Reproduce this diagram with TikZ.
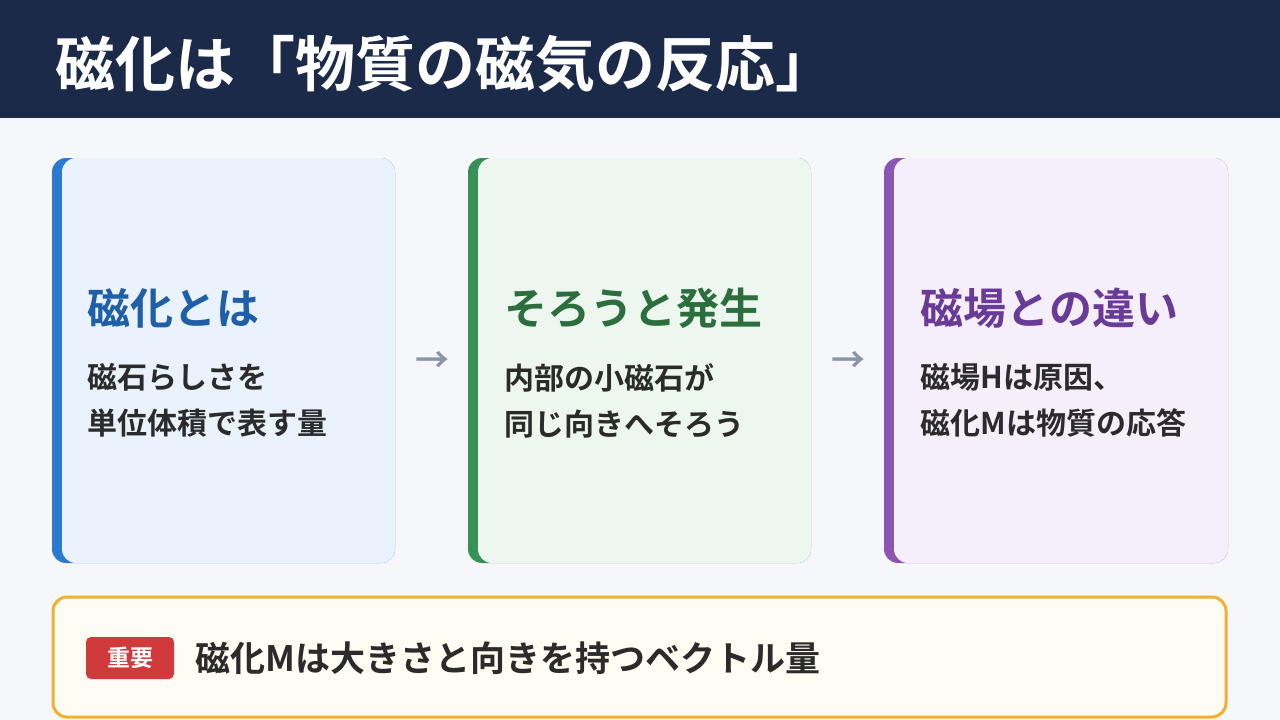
\documentclass[tikz,border=0pt]{standalone}
\usepackage{fontspec}
\setmainfont{Noto Sans CJK JP}[BoldFont={* Bold}]
\newfontfamily\cjk{Noto Sans CJK JP}[BoldFont={* Bold}]
\usetikzlibrary{positioning}
\definecolor{navy}{HTML}{1C2A4A}
\definecolor{pagebg}{HTML}{F5F7FB}
\definecolor{blueedge}{HTML}{2A7BD0}
\definecolor{bluebg}{HTML}{EAF2FE}
\definecolor{bluetxt}{HTML}{1F5FA8}
\definecolor{greenedge}{HTML}{359155}
\definecolor{greenbg}{HTML}{EDF7EF}
\definecolor{greentxt}{HTML}{2D6E3E}
\definecolor{purpleedge}{HTML}{8C55B2}
\definecolor{purplebg}{HTML}{F4EFFB}
\definecolor{purpletxt}{HTML}{6A3A99}
\definecolor{bodytxt}{HTML}{2B2B2B}
\definecolor{arrowgray}{HTML}{8A96A8}
\definecolor{notebg}{HTML}{FFFCF4}
\definecolor{noteedge}{HTML}{F0B030}
\definecolor{badgered}{HTML}{D03A3A}
\tikzset{
	heading/.style={anchor=west,font=\cjk\bfseries\fontsize{43}{48}\selectfont},
	body/.style={anchor=north west,align=left,text=bodytxt,font=\cjk\bfseries\fontsize{30}{46}\selectfont},
	step arrow/.style={text=arrowgray,font=\cjk\bfseries\fontsize{34}{34}\selectfont}
}
\begin{document}
\begin{tikzpicture}[x=1pt,y=-1pt]
	\fill[pagebg] (0,0) rectangle (1280,720);
	\useasboundingbox (0,0) rectangle (1280,720);
	% header
	\fill[navy] (0,0) rectangle (1280,118);
	\node[anchor=west,text=white,font=\cjk\bfseries\fontsize{60}{66}\selectfont] (title) at (52,64) {磁化は「物質の磁気の反応」};
	% cards
	\fill[blueedge,rounded corners=14] (52,158) rectangle (395,563);
	\fill[bluebg,rounded corners=14] (62,158) rectangle (395,563);
	\fill[greenedge,rounded corners=14] (468,158) rectangle (811,563);
	\fill[greenbg,rounded corners=14] (478,158) rectangle (811,563);
	\fill[purpleedge,rounded corners=14] (884,158) rectangle (1228,563);
	\fill[purplebg,rounded corners=14] (894,158) rectangle (1228,563);
	\node[heading,text=bluetxt] (h1) at (84,308) {磁化とは};
	\node[body] (b1) at (84,360) {磁石らしさを\\単位体積で表す量};
	\node[heading,text=greentxt] (h2) at (501,308) {そろうと発生};
	\node[body] (b2) at (501,360) {内部の小磁石が\\同じ向きへそろう};
	\node[heading,text=purpletxt] (h3) at (917,308) {磁場との違い};
	\node[body] (b3) at (917,360) {磁場Hは原因、\\磁化Mは物質の応答};
	\node[step arrow] (a1) at (432,362) {→};
	\node[step arrow] (a2) at (848,362) {→};
	% note
	\draw[noteedge,fill=notebg,line width=3,rounded corners=14] (53,597) rectangle (1226,717);
	\node[fill=badgered,rounded corners=5,text=white,minimum width=88,minimum height=42,inner sep=0,font=\cjk\bfseries\fontsize{23}{23}\selectfont] (badge) at (130,658) {重要};
	\node[anchor=west,text=bodytxt,font=\cjk\bfseries\fontsize{35}{40}\selectfont,right=18 of badge] (note) {磁化Mは大きさと向きを持つベクトル量};
\end{tikzpicture}
\end{document}
